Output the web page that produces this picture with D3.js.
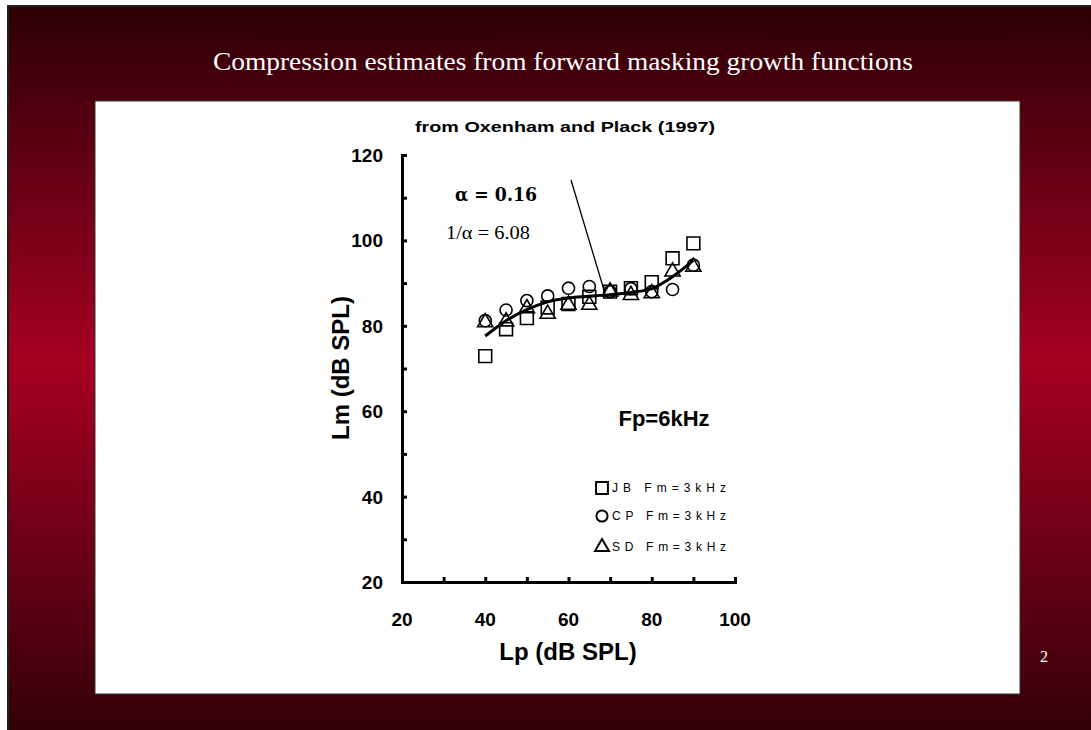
<!DOCTYPE html>
<html>
<head>
<meta charset="utf-8">
<script src="https://cdn.jsdelivr.net/npm/d3@7"></script>
<style>
  body { margin: 0; background: #fff; }
  svg { display: block; }
</style>
</head>
<body>
<script>
// data
var levels = [40, 45, 50, 55, 60, 65, 70, 75, 80, 85, 90];
var jb = [72.9, 79.2, 81.8, 84.3, 85.1, 86.8, 88.0, 88.8, 90.2, 95.8, 99.3];
var cp = [81.2, 83.7, 85.9, 87.0, 88.8, 89.2, 88.0, 88.7, 88.0, 88.5, 94.2];
var sd = [80.8, 81.0, 84.1, 82.8, 84.9, 84.9, 88.0, 87.2, 87.6, 92.7, 93.8];
var fit = [77.6, 81.2, 83.8, 85.6, 86.5, 86.9, 87.3, 87.8, 88.7, 91.5, 95.3];
var xTicks = [20, 40, 60, 80, 100];
var yTicks = [20, 40, 60, 80, 100, 120];
var legendNames = ["JB Fm=3kHz", "CP Fm=3kHz", "SD Fm=3kHz"];

var W = 1091, H = 730;
var svg = d3.select("body").append("svg")
    .attr("width", W)
    .attr("height", H);

var defs = svg.append("defs");
var grad = defs.append("linearGradient")
    .attr("id", "bg").attr("x1", 0).attr("y1", 0).attr("x2", 0).attr("y2", 1);
grad.append("stop").attr("offset", "0%").attr("stop-color", "#2c0007");
grad.append("stop").attr("offset", "49%").attr("stop-color", "#a60021");
grad.append("stop").attr("offset", "100%").attr("stop-color", "#33000a");

// slide background
svg.append("rect").attr("x", 7).attr("y", 5).attr("width", W - 7).attr("height", H - 5)
    .attr("fill", "#222");
svg.append("rect").attr("x", 9).attr("y", 7).attr("width", W - 9).attr("height", H - 7)
    .attr("fill", "url(#bg)");

svg.append("text")
    .attr("x", 563).attr("y", 70)
    .attr("text-anchor", "middle")
    .attr("textLength", 700)
    .attr("lengthAdjust", "spacingAndGlyphs")
    .style("font-family", "Liberation Serif, serif")
    .style("font-size", "25px")
    .style("fill", "#fff")
    .text("Compression estimates from forward masking growth functions");

svg.append("text")
    .attr("x", 1044).attr("y", 662)
    .attr("text-anchor", "middle")
    .style("font-family", "Liberation Serif, serif")
    .style("font-size", "16px")
    .style("fill", "#fff")
    .text("2");

// white panel
svg.append("rect").attr("x", 95).attr("y", 101).attr("width", 925).attr("height", 593)
    .attr("fill", "#fff").attr("stroke", "#333").attr("stroke-width", 1);

var x = d3.scaleLinear().domain([20, 100]).range([402, 735]);
var y = d3.scaleLinear().domain([20, 120]).range([582, 155]);

var g = svg.append("g");

// axes
var xAxis = g.append("g")
    .attr("transform", "translate(0," + y(20) + ")")
    .call(d3.axisBottom(x).tickValues(d3.range(20, 101, 10)).tickSize(-5).tickFormat(""));
var yAxis = g.append("g")
    .attr("transform", "translate(" + x(20) + ",0)")
    .call(d3.axisLeft(y).tickValues(d3.range(20, 121, 10)).tickSize(-5).tickFormat(""));
[xAxis, yAxis].forEach(function(a) {
  a.select(".domain").attr("stroke", "#000").attr("stroke-width", 3);
  a.selectAll(".tick line").attr("stroke", "#000").attr("stroke-width", 3);
});
xAxis.selectAll(".tick line").attr("y2", -5);
yAxis.selectAll(".tick line").attr("x2", 5);

g.selectAll(".xlab").data(xTicks).enter().append("text")
    .attr("x", function(d) { return x(d); })
    .attr("y", 626)
    .attr("text-anchor", "middle")
    .style("font-family", "Liberation Sans, Arial, sans-serif")
    .style("font-weight", "bold")
    .style("font-size", "19px")
    .text(function(d) { return d; });

g.selectAll(".ylab").data(yTicks).enter().append("text")
    .attr("x", 383)
    .attr("y", function(d) { return y(d) + 7; })
    .attr("text-anchor", "end")
    .style("font-family", "Liberation Sans, Arial, sans-serif")
    .style("font-weight", "bold")
    .style("font-size", "19px")
    .text(function(d) { return d; });

g.append("text")
    .attr("x", 568).attr("y", 660)
    .attr("text-anchor", "middle")
    .style("font-family", "Liberation Sans, Arial, sans-serif")
    .style("font-weight", "bold")
    .style("font-size", "24px")
    .text("Lp (dB SPL)");

g.append("text")
    .attr("transform", "translate(349,368) rotate(-90)")
    .attr("text-anchor", "middle")
    .style("font-family", "Liberation Sans, Arial, sans-serif")
    .style("font-weight", "bold")
    .style("font-size", "24px")
    .text("Lm (dB SPL)");

g.append("text")
    .attr("x", 565).attr("y", 132)
    .attr("text-anchor", "middle")
    .attr("textLength", 300)
    .attr("lengthAdjust", "spacingAndGlyphs")
    .style("font-family", "Liberation Sans, Arial, sans-serif")
    .style("font-weight", "bold")
    .style("font-size", "15px")
    .text("from Oxenham and Plack (1997)");

g.append("text")
    .attr("x", 664).attr("y", 426)
    .attr("text-anchor", "middle")
    .style("font-family", "Liberation Sans, Arial, sans-serif")
    .style("font-weight", "bold")
    .style("font-size", "22px")
    .text("Fp=6kHz");

// alpha annotation
g.append("text")
    .attr("x", 455).attr("y", 201)
    .attr("textLength", 82)
    .attr("lengthAdjust", "spacingAndGlyphs")
    .style("font-family", "DejaVu Serif, serif")
    .style("font-weight", "bold")
    .style("font-size", "18px")
    .text("α = 0.16");
g.append("text")
    .attr("x", 446).attr("y", 239)
    .attr("textLength", 84)
    .attr("lengthAdjust", "spacingAndGlyphs")
    .style("font-family", "Liberation Serif, serif")
    .style("font-size", "19px")
    .text("1/α = 6.08");
g.append("line")
    .attr("x1", 571).attr("y1", 180)
    .attr("x2", 604).attr("y2", 290)
    .attr("stroke", "#000").attr("stroke-width", 1.3);

// fitted curve
var pts = levels.map(function(l, i) { return [l, fit[i]]; });
g.append("path")
    .datum(pts)
    .attr("fill", "none")
    .attr("stroke", "#000")
    .attr("stroke-width", 3)
    .attr("d", d3.line()
        .curve(d3.curveMonotoneX)
        .x(function(d) { return x(d[0]); })
        .y(function(d) { return y(d[1]); }));

function symSize(t) {
  return t === d3.symbolCircle ? 115 : (t === d3.symbolTriangle ? 100 : 165);
}

// markers
function drawSeries(vals, type) {
  g.append("g").selectAll("path").data(vals).enter().append("path")
      .attr("transform", function(d, i) { return "translate(" + x(levels[i]) + "," + y(d) + ")"; })
      .attr("d", d3.symbol().type(type).size(symSize(type)))
      .attr("fill", "none")
      .attr("stroke", "#000")
      .attr("stroke-width", 1.6);
}
drawSeries(jb, d3.symbolSquare);
drawSeries(cp, d3.symbolCircle);
drawSeries(sd, d3.symbolTriangle);

// legend
var legTypes = [d3.symbolSquare, d3.symbolCircle, d3.symbolTriangle];
var legY = [488, 516, 547];
legendNames.forEach(function(name, i) {
  var t = legTypes[i];
  g.append("path")
      .attr("transform", "translate(602," + legY[i] + ")")
      .attr("d", d3.symbol().type(t).size(symSize(t) * 0.85))
      .attr("fill", "none").attr("stroke", "#000").attr("stroke-width", 2);
  g.append("text")
      .attr("x", 612).attr("y", legY[i] + 4)
      .attr("textLength", 114)
      .attr("lengthAdjust", "spacing")
      .style("font-family", "Liberation Sans, Arial, sans-serif")
      .style("font-size", "12px")
      .text(name);
});
</script>
</body>
</html>
